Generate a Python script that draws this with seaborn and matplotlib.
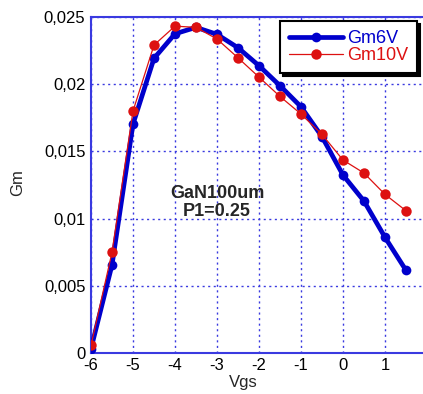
import matplotlib
matplotlib.use("Agg")
import matplotlib.pyplot as plt
import seaborn as sns
import pandas as pd
from matplotlib.ticker import FuncFormatter, MultipleLocator, FixedLocator

# Transconductance sweep of a GaN 100um device at two drain biases
vgs = [-6, -5.5, -5, -4.5, -4, -3.5, -3, -2.5, -2, -1.5, -1, -0.5, 0, 0.5, 1, 1.5]
gm_6v = [0.0003, 0.00654, 0.01704, 0.02194, 0.02377, 0.02425, 0.02373, 0.02273,
         0.02139, 0.0199, 0.01833, 0.0161, 0.01324, 0.0113, 0.0086, 0.00614]
gm_10v = [0.00055, 0.00748, 0.01801, 0.02293, 0.02434, 0.02425, 0.02338, 0.02198,
          0.02054, 0.0191, 0.01779, 0.01627, 0.01436, 0.01339, 0.0118, 0.01058]
x_ticks = [-6, -5, -4, -3, -2, -1, 0, 1, 2]
series_names = ["Gm6V", "Gm10V"]
annotation = "GaN100um\nP1=0.25"

df6 = pd.DataFrame({"Vgs": vgs, "Gm": gm_6v})
df10 = pd.DataFrame({"Vgs": vgs, "Gm": gm_10v})

sns.set_theme(style="white")
plt.rcParams["font.family"] = ["Liberation Sans", "DejaVu Sans"]
plt.rcParams["axes.unicode_minus"] = False

W, H = 423, 394
fig = plt.figure(figsize=(W / 100, H / 100), dpi=100)
# plot area runs past the right edge of the canvas (42 px per volt)
x_max = 2.3
ax = fig.add_axes([91 / W, (H - 352.7) / H, 42 * (x_max + 6) / W, 335.4 / H])

blue = "#0000cc"
red = "#dd1111"
axis_blue = "#3a3ae0"

sns.lineplot(data=df6, x="Vgs", y="Gm", ax=ax, color=blue, linewidth=3.4,
             marker="o", markersize=7, markeredgewidth=0, label=series_names[0],
             zorder=3)
sns.lineplot(data=df10, x="Vgs", y="Gm", ax=ax, color=red, linewidth=0.9,
             marker="o", markersize=7.5, markeredgewidth=0, label=series_names[1],
             zorder=4)

ax.set_xlim(x_ticks[0], x_max)
ax.set_ylim(0, 0.025)
ax.xaxis.set_major_locator(FixedLocator(x_ticks))
ax.yaxis.set_major_locator(MultipleLocator(0.005))
ax.yaxis.set_major_formatter(FuncFormatter(
    lambda v, _: "0" if abs(v) < 1e-12 else f"{v:g}".replace(".", ",")))

ax.grid(True, color=axis_blue, linestyle=(0, (1.5, 2.5)), linewidth=1.0)
for side in ["left", "bottom", "top"]:
    ax.spines[side].set_color(axis_blue)
    ax.spines[side].set_linewidth(1.5)
ax.spines["right"].set_visible(False)
ax.tick_params(axis="both", labelsize=12, colors="black", length=0, pad=4)

ax.set_xlabel("")
ax.set_ylabel("")
fig.text(18 / W, 1 - 183 / H, "Gm", rotation=90, ha="center", va="center",
         fontsize=12)
fig.text(243 / W, 1 - 383 / H, "Vgs", ha="center", va="center", fontsize=12)

ax.text(-3.0, 0.0112, annotation, ha="center", va="center", fontsize=13,
        fontweight="bold", linespacing=1.05)

leg = ax.legend(loc="upper right", bbox_to_anchor=(417 / W, 1 - 21 / H),
                bbox_transform=fig.transFigure, fontsize=13, frameon=True,
                fancybox=False, shadow={"color": "black", "alpha": 1},
                edgecolor="black", framealpha=1, handlelength=3.0,
                handletextpad=0.2, borderpad=0.5, labelspacing=0.0,
                borderaxespad=0)
leg.get_frame().set_linewidth(1.5)
for txt, c in zip(leg.get_texts(), [blue, red]):
    txt.set_color(c)
leg.set_zorder(10)

fig.savefig("out.png", dpi=100)
